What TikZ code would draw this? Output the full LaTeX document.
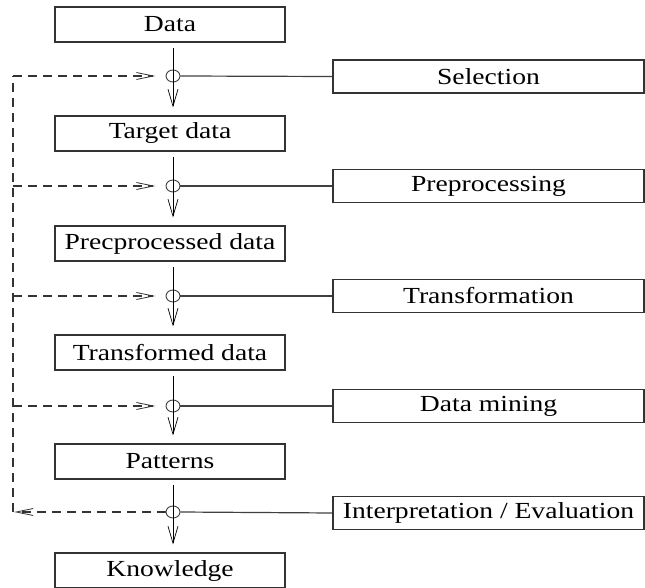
\documentclass[tikz,border=0pt]{standalone}
\usepackage{fontspec}
\setmainfont{Liberation Serif}[FakeStretch=1.2]
\usetikzlibrary{arrows.meta,shapes.geometric}
\begin{document}
\begin{tikzpicture}[x=1pt,y=-1pt,
  lbox/.style={draw=black!80,line width=1.1pt,minimum width=230pt,minimum height=35pt,inner sep=0pt,
    font=\fontsize{23}{27}\selectfont},
  rbox/.style={draw=black!80,line width=1.1pt,minimum width=311pt,minimum height=33pt,inner sep=0pt,
    font=\fontsize{23}{27}\selectfont},
  junc/.style={draw=black!75,ellipse,line width=0.9pt,minimum width=14pt,minimum height=12pt,inner sep=0pt},
  flow/.style={line width=1pt,-{Straight Barb[length=17pt,width=10pt,line width=0.7pt]},shorten <=5pt,shorten >=8pt},
  fb/.style={line width=1.1pt,dash pattern=on 9pt off 6pt,black!80},
  fbarrow/.style={fb,-{Straight Barb[length=17pt,width=7pt,line width=0.8pt,sep]}},
  tie/.style={line width=1.2pt,black!75}]
\useasboundingbox (0,0) rectangle (645,588);
% left column
\node[lbox] (d0) at (170,24.5) {Data};
\node[lbox] (d1) at (170,133.5) {Target data};
\node[lbox] (d2) at (170,243.5) {Precprocessed data};
\node[lbox] (d3) at (170,352.5) {Transformed data};
\node[lbox] (d4) at (170,461.5) {Patterns};
\node[lbox] (d5) at (170,570.5) {Knowledge};
% junctions
\node[junc] (j1) at (173,76) {};
\node[junc] (j2) at (173,186) {};
\node[junc] (j3) at (173,296) {};
\node[junc] (j4) at (173,406) {};
\node[junc] (j5) at (173,512) {};
% right column
\node[rbox] (s1) at (488.5,76.5) {Selection};
\node[rbox] (s2) at (488.5,186) {Preprocessing};
\node[rbox] (s3) at (488.5,296) {Transformation};
\node[rbox] (s4) at (488.5,406) {Data mining};
\node[rbox] (s5) at (488.5,513) {Interpretation / Evaluation};
% feedback corners
\coordinate (l1) at (13,76);
\coordinate (l2) at (13,186);
\coordinate (l3) at (13,296);
\coordinate (l4) at (13,406);
\coordinate (l5) at (13,512);
% flow arrows
\foreach \a/\b in {d0/d1,d1/d2,d2/d3,d3/d4,d4/d5}
  \draw[flow] (\a.south -| j1) -- (\b.north -| j1);
% ties to right boxes
\foreach \i in {1,...,5}
  \draw[tie] (j\i.east) -- (s\i.west);
% feedback loop
\draw[fb] (l5) -- (l1);
\foreach \i in {1,...,4}
  \draw[fbarrow,shorten >=9pt] (l\i) -- (j\i.west);
\draw[fbarrow] (j5.west) -- (l5);
\end{tikzpicture}
\end{document}
